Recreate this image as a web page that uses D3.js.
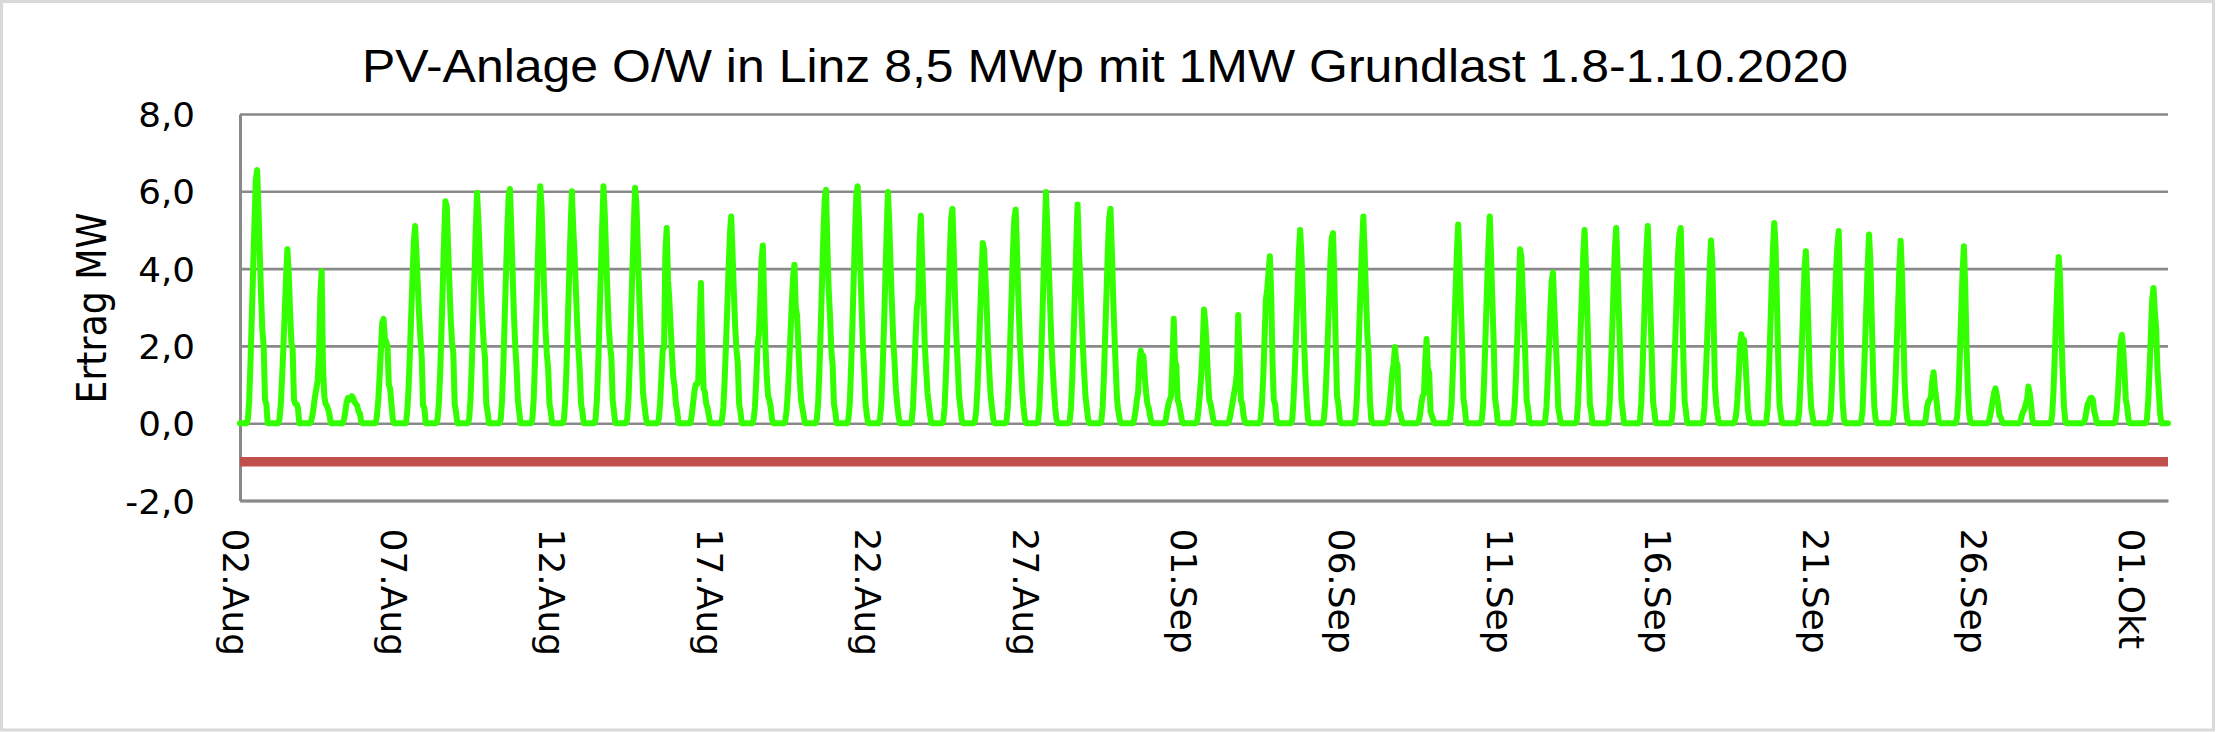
<!DOCTYPE html>
<html><head><meta charset="utf-8">
<script src="https://cdn.jsdelivr.net/npm/d3@7"></script>
<style>html,body{margin:0;padding:0;background:#fff;} svg{display:block;}</style>
</head><body>
<svg id="chart" width="2218" height="732"></svg>
<script>
// ---------------- data ----------------
const chartTitle = "PV-Anlage O/W in Linz 8,5 MWp mit 1MW Grundlast 1.8-1.10.2020";
const yAxisTitle = "Ertrag MW";
const startUTC = Date.UTC(2020, 7, 1);          // 01.08.2020 00:00
const hoursOfDay = [5,6,7,8,9,10,11,12,13,14,15,16,17,18,19,20]; // outside: 0 MW
// PV output per day (01.08. ... 30.09.), MW, hourly readings
const pvMW = [
 [0,0.1,0.6,1.6,2.8,4.0,5.2,6.3,6.55,5.6,4.4,3.3,2.4,2.0,0.6,0.5],
 [0,0.1,0.5,1.2,2.0,2.9,3.8,4.5,3.9,2.9,2.1,1.9,0.6,0.5,0.5,0.4],
 [0,0.05,0.2,0.45,0.7,0.9,1.1,1.8,3.3,3.93,1.5,0.7,0.5,0.45,0.35,0.2],
 [0,0,0.1,0.3,0.55,0.65,0.6,0.65,0.7,0.65,0.55,0.5,0.45,0.3,0.25,0.05],
 [0,0,0,0.2,0.6,1.2,1.9,2.6,2.7,2.2,2.1,2.0,1.0,0.9,0.5,0.1],
 [0,0,0.3,0.9,1.8,2.8,3.8,4.7,5.1,4.4,3.6,2.8,2.2,1.7,0.45,0.4],
 [0,0.1,0.5,1.3,2.4,3.6,4.8,5.74,5.6,4.6,3.6,2.7,2.1,1.8,0.5,0.3],
 [0,0.1,0.6,1.5,2.6,3.8,5.0,5.96,5.27,4.4,3.5,2.7,2.1,1.7,0.5,0.3],
 [0,0.1,0.6,1.5,2.7,3.9,5.0,5.9,6.06,5.0,3.9,2.8,2.0,1.45,0.6,0.3],
 [0,0.1,0.6,1.6,2.8,4.0,5.2,6.13,5.6,4.5,3.4,2.4,1.8,1.4,0.5,0.3],
 [0,0.1,0.6,1.5,2.7,3.9,5.0,6.0,5.1,4.4,3.5,2.6,1.9,1.35,0.5,0.3],
 [0,0.1,0.6,1.5,2.7,3.9,5.1,6.13,5.4,4.4,3.4,2.5,2.0,1.7,0.6,0.3],
 [0,0.1,0.6,1.6,2.8,4.0,5.1,6.09,5.7,4.6,3.5,2.5,1.8,0.8,0.5,0.2],
 [0,0.1,0.5,1.2,1.9,1.95,4.4,5.05,3.7,3.2,2.5,1.8,1.2,0.95,0.5,0.3],
 [0,0,0.2,0.5,0.8,1.0,1.0,1.1,2.5,3.63,2.0,0.9,0.8,0.5,0.4,0.2],
 [0,0.1,0.4,1.1,2.0,3.0,4.0,4.9,5.35,4.4,3.4,2.5,1.9,1.55,0.5,0.3],
 [0,0.1,0.4,1.1,2.0,2.3,3.1,4.2,4.6,3.2,2.0,1.2,0.7,0.6,0.4,0.1],
 [0,0.05,0.3,0.8,1.5,2.3,3.1,3.8,4.1,3.0,2.8,2.0,1.2,0.6,0.4,0.2],
 [0,0.1,0.5,1.4,2.5,3.7,4.9,5.8,6.04,4.6,3.45,2.8,1.9,1.5,0.5,0.3],
 [0,0.1,0.5,1.4,2.5,3.7,4.9,5.9,6.13,5.3,4.1,3.0,2.0,1.3,0.5,0.2],
 [0,0.1,0.5,1.4,2.5,3.7,4.9,5.98,5.2,4.1,3.1,2.2,1.6,0.9,0.5,0.2],
 [0,0.05,0.4,1.2,2.2,3.0,3.2,4.6,5.37,4.2,3.1,2.0,1.4,0.8,0.5,0.2],
 [0,0.05,0.4,1.2,2.2,3.3,4.4,5.3,5.55,4.4,3.2,2.2,1.5,0.7,0.4,0.1],
 [0,0.05,0.3,0.9,1.8,2.8,3.8,4.66,4.5,3.8,3.0,2.0,1.3,0.7,0.4,0.1],
 [0,0.05,0.4,1.2,2.3,3.4,4.5,5.3,5.53,4.5,3.3,2.3,1.5,0.8,0.4,0.1],
 [0,0.05,0.4,1.3,2.4,3.6,4.8,5.98,5.1,4.2,3.2,2.2,1.5,0.9,0.4,0.1],
 [0,0.05,0.4,1.2,2.3,3.4,4.6,5.66,4.5,3.8,2.9,2.0,1.3,0.7,0.4,0.1],
 [0,0.05,0.4,1.2,2.3,3.4,4.5,5.3,5.55,4.5,3.3,2.3,1.4,0.6,0.3,0.1],
 [0,0,0.1,0.3,0.6,0.8,1.6,1.88,1.6,1.75,1.2,0.8,0.5,0.4,0.2,0.05],
 [0,0,0.1,0.3,0.5,0.6,0.7,1.5,2.7,1.6,1.5,0.6,0.5,0.3,0.1,0],
 [0,0,0.1,0.4,0.8,1.3,2.0,2.94,2.6,2.0,1.2,0.6,0.5,0.3,0.1,0],
 [0,0,0.05,0.2,0.4,0.6,0.8,1.0,1.3,2.8,1.77,0.6,0.5,0.2,0.05,0],
 [0,0,0.1,0.5,1.2,2.2,3.2,3.47,3.9,4.32,3.4,1.6,0.6,0.5,0.1,0],
 [0,0,0.1,0.6,1.4,2.4,3.4,4.4,5.0,4.36,3.4,2.1,1.2,0.55,0.1,0],
 [0,0,0.1,0.5,1.3,2.2,3.2,4.2,4.8,4.92,3.7,2.1,0.7,0.5,0.1,0],
 [0,0,0.1,0.6,1.5,2.6,3.6,4.6,5.35,4.4,3.3,2.3,1.8,0.6,0.1,0],
 [0,0,0.05,0.2,0.5,0.9,1.3,1.55,1.97,1.6,1.5,0.35,0.25,0.1,0,0],
 [0,0,0.05,0.2,0.5,0.7,0.75,1.6,2.18,1.4,1.3,0.3,0.2,0.1,0,0],
 [0,0,0.1,0.5,1.4,2.4,3.4,4.4,5.14,4.2,3.1,2.06,0.65,0.4,0.05,0],
 [0,0,0.1,0.5,1.4,2.5,3.6,4.6,5.35,4.3,3.1,2.06,0.65,0.4,0.05,0],
 [0,0,0.1,0.5,1.3,2.3,3.4,4.5,4.3,3.45,2.6,1.7,0.6,0.4,0.05,0],
 [0,0,0.05,0.4,1.1,2.0,2.9,3.67,3.9,3.0,2.2,1.4,0.4,0.2,0,0],
 [0,0,0.05,0.5,1.4,2.4,3.4,4.4,5.0,4.1,2.9,1.68,0.5,0.3,0,0],
 [0,0,0.05,0.5,1.4,2.4,3.5,4.5,5.05,4.1,2.9,1.8,0.6,0.3,0,0],
 [0,0,0.05,0.5,1.4,2.4,3.5,4.5,5.1,4.1,2.9,1.77,0.56,0.3,0,0],
 [0,0,0.05,0.4,1.3,2.3,3.4,4.4,4.9,5.05,3.6,1.7,0.55,0.3,0,0],
 [0,0,0.05,0.4,1.2,2.1,3.0,4.0,4.73,4.15,2.6,0.95,0.45,0.2,0,0],
 [0,0,0.05,0.2,0.6,1.2,2.0,2.3,2.1,2.16,1.7,1.03,0.35,0.1,0,0],
 [0,0,0.05,0.4,1.3,2.4,3.5,4.5,5.18,4.6,3.2,1.68,0.5,0.2,0,0],
 [0,0,0.05,0.3,1.1,2.0,3.0,4.0,4.45,3.6,2.4,1.12,0.43,0.2,0,0],
 [0,0,0.05,0.3,1.1,2.1,3.1,4.0,4.6,4.97,3.4,1.5,0.5,0.1,0,0],
 [0,0,0.05,0.3,1.1,2.1,3.1,4.1,4.88,4.2,2.8,1.38,0.43,0.1,0,0],
 [0,0,0.02,0.3,1.0,2.0,3.0,4.0,4.72,3.9,2.5,1.04,0.43,0.1,0,0],
 [0,0,0,0.1,0.4,0.56,0.6,0.7,1.1,1.32,0.9,0.65,0.3,0.05,0,0],
 [0,0,0,0.2,0.8,1.8,2.9,3.9,4.58,3.6,2.0,0.9,0.26,0.05,0,0],
 [0,0,0,0.05,0.2,0.4,0.6,0.8,0.9,0.73,0.5,0.2,0.15,0.05,0,0],
 [0,0,0,0.05,0.2,0.3,0.35,0.5,0.6,0.95,0.78,0.5,0.1,0,0,0],
 [0,0,0,0.2,0.8,1.7,2.7,3.6,4.3,3.8,2.4,1.3,0.43,0.05,0,0],
 [0,0,0,0.02,0.1,0.3,0.5,0.55,0.65,0.66,0.6,0.3,0.17,0,0,0],
 [0,0,0,0.05,0.3,0.8,1.5,2.1,2.29,1.9,1.3,0.6,0.43,0.1,0,0],
 [0,0,0,0.1,0.6,1.4,2.3,3.2,3.5,2.9,2.46,1.4,0.82,0.26,0,0]
];
const baseLoadMW = -1.0;                          // 1 MW Grundlast
const yTicks = [-2, 0, 2, 4, 6, 8];
const xTickDays = [0, 5, 10, 15, 20, 25, 30, 35, 40, 45, 50, 55, 60];
const xTickLabels = ["02.Aug","07.Aug","12.Aug","17.Aug","22.Aug","27.Aug","01.Sep",
                     "06.Sep","11.Sep","16.Sep","21.Sep","26.Sep","01.Okt"];

// ---------------- layout ----------------
const P = {left: 240, right: 2168, top: 114, bottom: 500.5};
const DAY = 864e5, HOUR = 36e5;
const GRID = "#898989";
const AXISFONT = "'DejaVu Sans', Verdana, sans-serif";

const svg = d3.select("#chart");
svg.append("rect").attr("x", 1.5).attr("y", 1.5).attr("width", 2212).attr("height", 728.5)
  .attr("fill", "#fff").attr("stroke", "#d9d9d9").attr("stroke-width", 3);

const x = d3.scaleUtc()
  .domain([new Date(startUTC), new Date(startUTC + pvMW.length * DAY)])
  .range([P.left, P.right]);
const y = d3.scaleLinear().domain([-2, 8]).range([P.bottom, P.top]);

const fmt = d3.formatLocale({decimal: ",", thousands: ".", grouping: [3], currency: ["", "€"], minus: "-"}).format(".1f");

// Y axis with gridlines
const gy = svg.append("g").attr("transform", `translate(${P.left},0)`)
  .call(d3.axisLeft(y).tickValues(yTicks).tickFormat(fmt)
        .tickSizeInner(-(P.right - P.left)).tickSizeOuter(0).tickPadding(45));
gy.select(".domain").attr("stroke", GRID).attr("stroke-width", 3);
gy.selectAll(".tick line").attr("stroke", GRID).attr("stroke-width", 2.6);
gy.selectAll(".tick text")
  .attr("x", null).attr("dy", null)
  .attr("transform", "translate(-45,12.5) scale(1.05,1)")
  .attr("text-anchor", "end")
  .attr("fill", "#000")
  .style("font-family", AXISFONT).style("font-size", "34px");

// X axis
const xTickDates = xTickDays.map(d => new Date(startUTC + d * DAY));
const gx = svg.append("g").attr("transform", `translate(0,${P.bottom})`)
  .call(d3.axisBottom(x).tickValues(xTickDates).tickFormat((d, i) => xTickLabels[i])
        .tickSize(0));
gx.select(".domain").attr("stroke", GRID).attr("stroke-width", 3);
gx.selectAll(".tick text")
  .attr("x", null).attr("y", null).attr("dy", null)
  .attr("text-anchor", "start")
  .attr("transform", "translate(-17.5,28) rotate(90)")
  .attr("fill", "#000")
  .style("font-family", AXISFONT).style("font-size", "36px");

// Series
const series = [];
pvMW.forEach((row, d) => {
  for (let h = 0; h < 24; h++) {
    const i = hoursOfDay.indexOf(h);
    series.push({t: new Date(startUTC + d * DAY + h * HOUR), v: i >= 0 ? row[i] : 0});
  }
});
series.push({t: new Date(startUTC + pvMW.length * DAY), v: 0});

const line = d3.line().x(d => x(d.t)).y(d => y(d.v));

const baseSeries = [
  {t: new Date(startUTC), v: baseLoadMW},
  {t: new Date(startUTC + pvMW.length * DAY), v: baseLoadMW}
];
svg.append("path").datum(baseSeries).attr("d", line)
  .attr("fill", "none").attr("stroke", "#C0504D").attr("stroke-width", 9.5);

svg.append("path").datum(series).attr("d", line)
  .attr("fill", "none").attr("stroke", "#33FF00").attr("stroke-width", 6)
  .attr("stroke-linejoin", "round").attr("stroke-linecap", "round");

// Titles
svg.append("text").text(chartTitle)
  .attr("x", 1105).attr("y", 82).attr("text-anchor", "middle")
  .attr("textLength", 1486).attr("lengthAdjust", "spacingAndGlyphs")
  .style("font-family", "'Liberation Sans', Arial, sans-serif").style("font-size", "46px")
  .attr("fill", "#000");

svg.append("text").text(yAxisTitle)
  .attr("transform", "translate(106,308) rotate(-90)")
  .attr("text-anchor", "middle")
  .attr("textLength", 191).attr("lengthAdjust", "spacingAndGlyphs")
  .style("font-family", AXISFONT).style("font-size", "41px")
  .attr("fill", "#000");
</script>
</body></html>
